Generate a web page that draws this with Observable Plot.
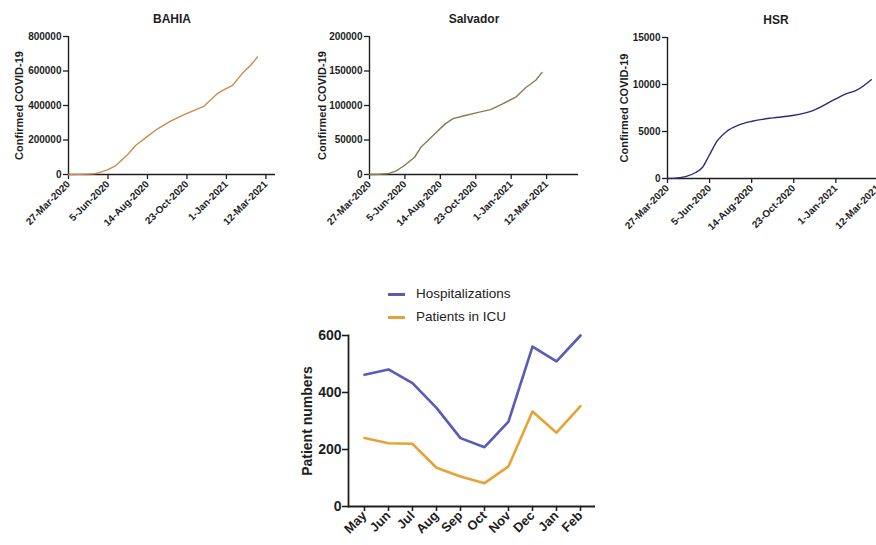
<!DOCTYPE html>
<html>
<head>
<meta charset="utf-8">
<script src="https://cdn.jsdelivr.net/npm/d3@7"></script>
<script src="https://cdn.jsdelivr.net/npm/@observablehq/plot@0.6"></script>
<style>
  html, body { margin: 0; padding: 0; background: #fff; }
  #root { position: relative; width: 876px; height: 545px; overflow: hidden; font-family: "Liberation Sans", Arial, sans-serif; }
  .panel { position: absolute; }
  .panel svg { max-width: none !important; }
  .legend { position: absolute; left: 388px; font-size: 13.5px; color: #222; }
  .legend .row { position: absolute; left: 0; white-space: nowrap; height: 16px; line-height: 16px; }
  .legend .sw { position: absolute; left: 0; top: 7px; width: 17px; height: 3px; }
  .legend .lbl { position: absolute; left: 28px; top: 0; }
</style>
</head>
<body>
<div id="root"></div>
<script>
// ---- data ----
const dateTicks = ["2020-03-27", "2020-06-05", "2020-08-14", "2020-10-23", "2021-01-01", "2021-03-12"];

const bahiaDates = ["2020-03-27","2020-04-15","2020-05-01","2020-05-11","2020-05-22","2020-06-04","2020-06-19","2020-07-01","2020-07-10","2020-07-24","2020-08-14","2020-09-01","2020-09-24","2020-10-22","2020-11-22","2020-12-16","2020-12-28","2021-01-12","2021-01-29","2021-02-13","2021-02-25"];
const bahiaCases = [0, 800, 2000, 4000, 12000, 27000, 52000, 88000, 116000, 168000, 221000, 265000, 310000, 353000, 395000, 469000, 492000, 517000, 585000, 633000, 681000];

const salvadorDates = ["2020-03-27","2020-04-15","2020-05-01","2020-05-18","2020-06-04","2020-06-24","2020-07-07","2020-07-27","2020-08-23","2020-09-08","2020-10-02","2020-10-28","2020-11-21","2020-12-14","2021-01-10","2021-01-30","2021-02-19","2021-03-03"];
const salvadorCases = [0, 300, 1000, 4800, 13000, 25000, 40000, 54000, 73000, 81000, 85500, 90000, 94000, 102000, 112000, 126000, 137000, 148000];

const hsrDates = ["2020-03-27","2020-04-10","2020-04-26","2020-05-13","2020-05-24","2020-06-04","2020-06-18","2020-07-05","2020-07-24","2020-08-15","2020-09-18","2020-10-21","2020-11-24","2021-01-01","2021-01-18","2021-02-04","2021-03-01"];
const hsrCases = [0, 40, 200, 640, 1170, 2420, 4030, 5090, 5700, 6090, 6450, 6700, 7230, 8480, 9010, 9370, 10510];

const months = ["May", "Jun", "Jul", "Aug", "Sep", "Oct", "Nov", "Dec", "Jan", "Feb"];
const hospitalizations = [462, 481, 433, 346, 240, 208, 298, 561, 509, 600];
const icuPatients = [240, 222, 220, 136, 105, 82, 141, 333, 259, 352];

const bahiaTicks = [0, 200000, 400000, 600000, 800000];
const salvadorTicks = [0, 50000, 100000, 150000, 200000];
const hsrTicks = [0, 5000, 10000, 15000];
const patientTicks = [0, 200, 400, 600];

// ---- helpers ----
const FONT = '"Liberation Sans", Arial, sans-serif';
const INK = "#1e1e1e";
const monAbbr = ["Jan","Feb","Mar","Apr","May","Jun","Jul","Aug","Sep","Oct","Nov","Dec"];
const fmtDate = d => `${d.getUTCDate()}-${monAbbr[d.getUTCMonth()]}-${d.getUTCFullYear()}`;
const toDate = s => new Date(s + "T00:00:00Z");

function topPanel(o) {
  const rows = o.dates.map((d, i) => ({date: toDate(d), value: o.values[i]}));
  const x0 = toDate("2020-03-27");
  return Plot.plot({
    width: o.width, height: o.height,
    marginLeft: o.marginLeft, marginRight: o.marginRight,
    marginTop: o.marginTop, marginBottom: o.height - o.yZero,
    x: {type: "utc", domain: [x0, toDate(o.xEnd)]},
    y: {domain: [0, o.yMax]},
    style: {fontFamily: FONT, color: INK, background: "transparent", overflow: "visible", maxWidth: "none"},
    marks: [
      Plot.ruleY([0], {stroke: INK, strokeWidth: 1.4}),
      Plot.ruleX([x0], {stroke: INK, strokeWidth: 1.4}),
      Plot.axisY({ticks: o.yTicks, tickFormat: d => String(d), tickSize: 5, tickPadding: 2,
        strokeWidth: 1.3, label: null, fontSize: 10, fontWeight: "bold", fill: INK}),
      Plot.axisX({ticks: dateTicks.map(toDate), tickFormat: fmtDate, tickSize: 5, tickPadding: 3,
        tickRotate: -45, strokeWidth: 1.3, label: null, fontSize: 10, fontWeight: "bold", fill: INK}),
      Plot.line(rows, {x: "date", y: "value", stroke: o.color, strokeWidth: 1.4, curve: o.curve || "linear"}),
      Plot.text([o.title], {text: d => d, frameAnchor: "top", dy: -22, fontSize: 12, fontWeight: "bold", fill: INK}),
      Plot.text(["Confirmed COVID-19"], {text: d => d, frameAnchor: "left", textAnchor: "middle", dx: o.labelDx, rotate: -90,
        fontSize: 11, fontWeight: "bold", fill: INK})
    ]
  });
}

const root = document.getElementById("root");
function place(node, left, top, width) {
  const div = document.createElement("div");
  div.className = "panel";
  div.style.left = left + "px";
  div.style.top = top + "px";
  div.style.width = width + "px";
  div.appendChild(node);
  root.appendChild(div);
}

place(topPanel({
  dates: bahiaDates, values: bahiaCases, title: "BAHIA", color: "#d08a4c",
  width: 300, height: 245, marginLeft: 68, marginRight: 25, marginTop: 36, yZero: 174,
  xEnd: "2021-03-29", yMax: 800000, yTicks: bahiaTicks, labelDx: -49
}), 0, 0, 300);

place(topPanel({
  dates: salvadorDates, values: salvadorCases, title: "Salvador", color: "#8a7a52",
  width: 300, height: 245, marginLeft: 79, marginRight: 12, marginTop: 36, yZero: 174,
  xEnd: "2021-05-14", yMax: 200000, yTicks: salvadorTicks, labelDx: -47
}), 290, 0, 300);

place(topPanel({
  dates: hsrDates, values: hsrCases, title: "HSR", color: "#2b2a7c", curve: "monotone-x",
  width: 314, height: 245, marginLeft: 87, marginRight: 10, marginTop: 37, yZero: 178,
  xEnd: "2021-03-23", yMax: 15000, yTicks: hsrTicks, labelDx: -43
}), 580, 0, 314);

// ---- bottom chart ----
const HOSP = "#5b5ab4", ICU = "#e7a236";
const series = [
  ...months.map((m, i) => ({month: m, value: hospitalizations[i], series: "Hospitalizations"})),
  ...months.map((m, i) => ({month: m, value: icuPatients[i], series: "Patients in ICU"}))
];

const bottom = Plot.plot({
  width: 320, height: 225,
  marginLeft: 58, marginRight: 15, marginTop: 15, marginBottom: 39,
  x: {type: "point", domain: months, padding: 0.5},
  y: {domain: [0, 600]},
  color: {domain: ["Hospitalizations", "Patients in ICU"], range: [HOSP, ICU]},
  style: {fontFamily: FONT, color: INK, background: "transparent", overflow: "visible", maxWidth: "none"},
  marks: [
    Plot.ruleY([0], {stroke: INK, strokeWidth: 1.8}),
    Plot.frame({anchor: "left", stroke: INK, strokeWidth: 1.8}),
    Plot.axisY({ticks: patientTicks, tickSize: 6, tickPadding: 1, strokeWidth: 1.6, label: null,
      fontSize: 14, fontWeight: "bold", fill: INK}),
    Plot.axisX({tickSize: 5, tickPadding: 2, tickRotate: -45, strokeWidth: 1.6, label: null,
      fontSize: 13, fontWeight: "bold", fill: INK}),
    Plot.line(series, {x: "month", y: "value", stroke: "series", z: "series", strokeWidth: 2.6,
      strokeLinejoin: "round", strokeLinecap: "round"}),
    Plot.text(["Patient numbers"], {text: d => d, frameAnchor: "left", textAnchor: "middle", dx: -41, rotate: -90,
      fontSize: 14, fontWeight: "bold", fill: INK})
  ]
});
place(bottom, 290, 320, 320);

// ---- legend ----
const legend = document.createElement("div");
legend.className = "legend";
legend.style.top = "0px";
[["Hospitalizations", HOSP, 286], ["Patients in ICU", ICU, 309]].forEach(([name, col, top]) => {
  const row = document.createElement("div");
  row.className = "row";
  row.style.top = top + "px";
  const sw = document.createElement("span");
  sw.className = "sw";
  sw.style.background = col;
  const lbl = document.createElement("span");
  lbl.className = "lbl";
  lbl.textContent = name;
  row.appendChild(sw);
  row.appendChild(lbl);
  legend.appendChild(row);
});
root.appendChild(legend);
</script>
</body>
</html>
